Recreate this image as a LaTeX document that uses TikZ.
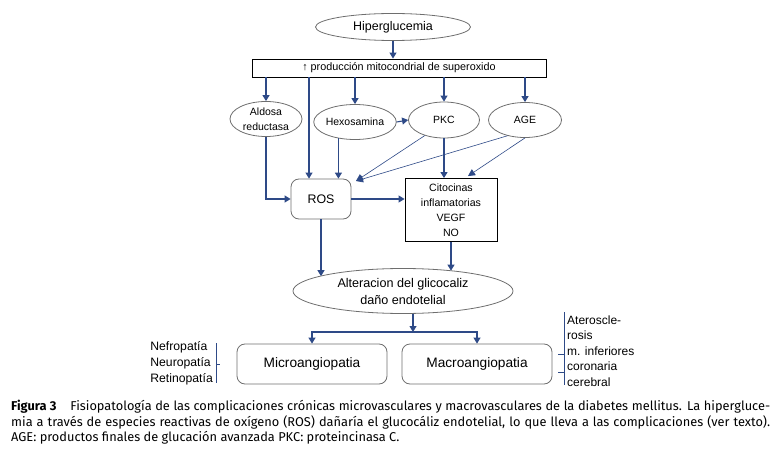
\documentclass[tikz,border=0pt]{standalone}
\usepackage{fontspec}
\setmainfont{Liberation Sans}
\newfontfamily\capfont{Fira Sans}
\usetikzlibrary{arrows.meta, calc, shapes.geometric}
\definecolor{navy}{HTML}{2E4A87}
\definecolor{edgegray}{HTML}{6E6E6E}

\begin{document}
\begin{tikzpicture}[x=1pt, y=-1pt, every node/.style={align=center, inner sep=0pt}]
    \tikzset{oval/.style={ellipse,draw=edgegray,line width=0.8pt,font=\fontsize{10.5}{15}\selectfont}, roundbox/.style={draw=edgegray,line width=0.8pt,rounded corners=8pt}, plainbox/.style={draw=black,line width=0.9pt}, arrow/.style={-{Triangle[length=6pt,width=7pt]},line width=1.1pt,draw=navy}, thinarrow/.style={-{Triangle[length=7pt,width=7pt]},line width=0.6pt,draw=navy}, brace/.style={draw=navy,line width=0.9pt}}
    \useasboundingbox (0,0) rectangle (779,457);
    \node[oval,minimum width=155pt,minimum height=27pt,font=\fontsize{12.5}{15}\selectfont] (hyper) at (393,27) {Hiperglucemia};
    \node[plainbox,minimum width=294pt,minimum height=18pt,font=\fontsize{10.8}{13}\selectfont] (mito) at (399,68) {↑ producción mitocondrial de superoxido};
    \node[oval,minimum width=72pt,minimum height=35pt] (aldosa) at (266,119) {Aldosa\\reductasa};
    \node[oval,minimum width=72pt,minimum height=35pt] (hexo) at (355,122) {Hexosamina};
    \node[oval,minimum width=71pt,minimum height=36pt] (pkc) at (444,120) {PKC};
    \node[oval,minimum width=73pt,minimum height=35pt] (age) at (525,120) {AGE};
    \node[roundbox,minimum width=60pt,minimum height=40pt,font=\fontsize{12.4}{15}\selectfont] (ros) at (321,199) {ROS};
    \node[plainbox,minimum width=92pt,minimum height=63pt,font=\fontsize{10.6}{15}\selectfont] (cito) at (451,210) {Citocinas\\inflamatorias\\VEGF\\NO};
    \node[oval,minimum width=220pt,minimum height=45pt,font=\fontsize{12.6}{17}\selectfont] (alter) at (403,291) {Alteracion del glicocaliz\\daño endotelial};
    \node[roundbox,minimum width=150pt,minimum height=40pt,font=\fontsize{13.7}{16}\selectfont] (micro) at (312,364) {Microangiopatia};
    \node[roundbox,minimum width=150pt,minimum height=40pt,font=\fontsize{13.7}{16}\selectfont] (macro) at (477,364) {Macroangiopatia};
    \node[align=left,anchor=east,font=\fontsize{12.2}{16}\selectfont] (microlist) at (213,363) {Nefropatía\\Neuropatía\\Retinopatía};
    \node[align=left,anchor=west,font=\fontsize{12}{15.5}\selectfont] (macrolist) at (567,351) {Ateroscle-\\rosis\\m. inferiores\\coronaria\\cerebral};
    \coordinate (rosleft) at ($(ros.north)+(-12,0)$);
    \coordinate (rosmid) at ($(ros.north)+(17.4,0)$);
    \coordinate (rosne) at (356,181);
    \coordinate (citone) at ($(cito.north)+(17,-2)$);
    \coordinate (split) at (413,332);
    % from the top
    \draw[arrow] (hyper.south) -- (hyper.south |- mito.north);
    \draw[arrow] (aldosa.north |- mito.south) -- (aldosa.north);
    \draw[arrow] (rosleft |- mito.south) -- (rosleft);
    \draw[arrow] (hexo.north |- mito.south) -- (hexo.north);
    \draw[arrow] (pkc.north |- mito.south) -- (pkc.north);
    \draw[arrow] (age.north |- mito.south) -- (age.north);
    \draw[arrow] (hexo.east) -- (pkc.west);
    % into ROS and the cytokines
    \draw[arrow] (rosmid |- hexo.222) -- (rosmid);
    \draw[arrow] (aldosa.south) |- (ros.west);
    \draw[thinarrow] (pkc.219) -- (rosne);
    \draw[thinarrow] (age.222) -- (rosne);
    \draw[arrow] (pkc.south) -- (pkc.south |- cito.north);
    \draw[thinarrow] (age.south) -- (citone);
    \draw[arrow] (ros.east) -- (ros.east -| cito.west);
    \draw[arrow] (ros.south) -- (ros.south |- alter.170);
    \draw[arrow] (cito.south) -- (cito.south |- alter.22);
    % complications
    \draw[arrow] (alter.south -| split) -- (split);
    \draw[arrow] (split) -| (micro);
    \draw[arrow] (split) -| (macro);
    \draw[brace] (216,343) -- (216,383) (216,364) -- (220,364);
    \draw[brace] (564,312) -- (564,385) (564,354) -- (558,354) (564,372) -- (558,372);
    \node[anchor=north west,text width=759pt,align=justify,font=\capfont\fontsize{12.8}{15.5}\selectfont] (caption) at (11,400) {\textbf{Figura 3}\hspace{14pt}Fisiopatología de las complicaciones crónicas microvasculares y macrovasculares de la diabetes mellitus. La hipergluce-\linebreak mia a través de especies reactivas de oxígeno (ROS) dañaría el glucocáliz endotelial, lo que lleva a las complicaciones (ver texto).\linebreak AGE: productos finales de glucación avanzada PKC: proteincinasa C.};
  \end{tikzpicture}
\end{document}
